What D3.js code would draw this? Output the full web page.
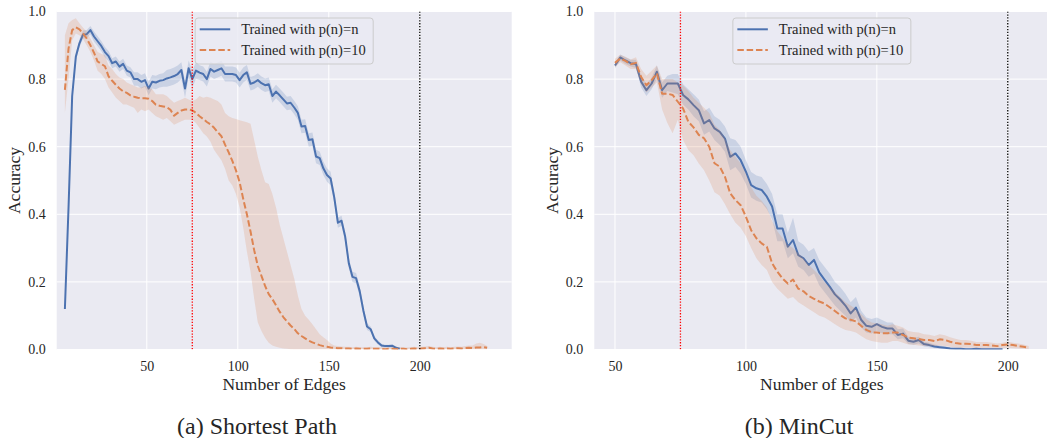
<!DOCTYPE html>
<html>
<head>
<meta charset="utf-8">
<script src="https://cdn.jsdelivr.net/npm/d3@7"></script>
<style>
  body { margin: 0; background: #ffffff; }
  svg { display: block; }
  text { font-family: "Liberation Serif", "Times New Roman", Times, serif; fill: #262626; }
</style>
</head>
<body>
<svg id="chart" width="1047" height="438"></svg>
<script>
// ---------- Shortest Path: accuracy vs. number of edges ----------
const spEdgesN = [5,7,9,11,13,15,17,19,21,23,25,27,29,31,33,35,37,39,41,43,45,47,49,51,53,55,57,59,61,63,65,67,69,71,73,75,77,79,81,83,85,87,89,91,93,95,97,99,101,103,105,107,109,111,113,115,117,119,121,123,125,127,129,131,133,135,137,139,141,143,145,147,149,151,153,155,157,159,161,163,165,167,169,171,173,175,177,179,181,183,185,187,189];
const spAccN = [.12,.42,.75,.866,.906,.932,.933,.945,.926,.912, .898,.88,.868,.847,.852,.837,.845,.825,.82,.80, .80,.792,.797,.772,.792,.79,.795,.797,.802,.805, .809,.815,.827,.772,.832,.80,.825,.819,.815,.80, .83,.822,.827,.832,.815,.815,.815,.812,.797,.812, .82,.786,.79,.797,.788,.782,.785,.75,.763,.752, .74,.728,.73,.716,.70,.66,.661,.62,.622,.571, .566,.536,.516,.506,.45,.375,.381,.334,.255,.215, .211,.172,.115,.068,.06,.033,.021,.012,.01,.01, .011,.005,.002];
const spLowN = [.115,.41,.735,.854,.894,.92,.921,.933,.911,.897, .883,.865,.853,.832,.837,.822,.83,.81,.805,.78, .78,.772,.777,.752,.772,.77,.775,.777,.777,.78, .784,.79,.80,.745,.805,.775,.80,.797,.793,.778, .808,.80,.805,.81,.793,.793,.793,.79,.775,.79, .798,.766,.77,.777,.768,.762,.765,.73,.743,.732, .72,.708,.71,.696,.68,.64,.641,.60,.602,.551, .546,.516,.496,.486,.435,.36,.366,.319,.24,.20, .196,.157,.10,.058,.052,.026,.015,.007,.006,.006, .007,.002,0];
const spHighN = [.125,.43,.765,.878,.918,.944,.945,.957,.941,.927, .913,.895,.883,.862,.867,.852,.86,.84,.835,.82, .82,.812,.817,.792,.812,.81,.815,.817,.827,.83, .834,.84,.85,.795,.855,.825,.85,.841,.837,.822, .852,.844,.849,.854,.837,.837,.837,.834,.819,.834, .842,.806,.81,.817,.808,.802,.805,.77,.783,.772, .76,.748,.75,.736,.72,.68,.681,.64,.642,.591, .586,.556,.536,.526,.465,.39,.396,.349,.27,.23, .226,.187,.13,.078,.068,.04,.027,.017,.014,.014, .015,.008,.004];

const spEdges10 = [5,7,9,11,13,15,17,19,21,23,25,27,29,31,33,35,37,39,41,43,45,47,49,51,53,55,57,59,61,63,65,67,69,71,73,75,77,79,81,83,85,87,89,91,93,95,97,99,101,103,105,107,109,111,113,115,117,119,121,123,125,127,129,131,133,135,137,139,141,143,145,147,149,151,153,155,157,159,161,163,165,167,169,171,173,175,177,179,181,183,185,187,189,191,193,195,197,199,201,203,205,207,209,211,213,215,217,219,221,223,225,227,229,231,233,235,237];
const spAcc10 = [.768,.89,.945,.953,.947,.935,.92,.90,.878,.852, .845,.838,.808,.795,.783,.772,.764,.759,.752,.748, .745,.743,.743,.742,.735,.724,.721,.719,.717,.709, .692,.70,.707,.71,.71,.708,.70,.69,.682,.673, .666,.656,.643,.631,.606,.583,.558,.53,.495,.445, .40,.349,.294,.247,.218,.188,.164,.149,.131,.112, .096,.083,.071,.061,.048,.04,.033,.026,.021,.017, .013,.01,.008,.006,.005,.004,.004,.003,.003,.002, .003,.002,.002,.002,.003,.002,.002,.002,.001,.002, .002,.001,.002,.002,.001,.002,.003,.002,.003,.004, .005,.003,.002,.003,.002,.003,.002,.003,.004,.003, .004,.005,.004,.006,.006,.007,.005];
const spLow10 = [.70,.80,.915,.935,.93,.918,.90,.88,.855,.825, .815,.80,.775,.76,.745,.735,.725,.725,.72,.715, .70,.71,.705,.71,.70,.69,.685,.68,.685,.675, .665,.67,.675,.68,.68,.68,.67,.655,.64,.63, .615,.59,.575,.56,.535,.50,.485,.46,.42,.36, .29,.23,.15,.08,.055,.035,.02,.012,.008,.005, .003,.002,.001,0,0,0,0,0,0,0, 0,0,0,0,0,0,0,0,0,0, 0,0,0,0,0,0,0,0,0,0, 0,0,0,0,0,0,0,0,0,0, 0,0,0,0,0,0,0,0,0,0, 0,0,0,0,0,0,0];
const spHigh10 = [.93,.965,.975,.98,.965,.952,.94,.92,.90,.88, .875,.87,.84,.83,.815,.805,.80,.79,.785,.78, .775,.775,.78,.775,.77,.755,.755,.755,.75,.74, .73,.735,.74,.745,.74,.735,.74,.75,.745,.748, .745,.74,.735,.725,.70,.69,.685,.682,.678,.675, .672,.668,.62,.57,.53,.495,.49,.46,.42,.37, .33,.29,.25,.21,.16,.12,.10,.088,.075,.06, .045,.036,.028,.018,.012,.01,.009,.008,.008,.007, .008,.007,.007,.007,.008,.007,.007,.007,.006,.007, .007,.006,.007,.007,.006,.007,.008,.007,.008,.009, .01,.008,.007,.008,.007,.008,.007,.008,.009,.008, .01,.012,.012,.018,.02,.016,.01];

// ---------- MinCut: accuracy vs. number of edges ----------
const mcEdgesN = [50,52,54,56,58,60,62,64,66,68,70,72,74,76,78,80,82,84,86,88,90,92,94,96,98,100,102,104,106,108,110,112,114,116,118,120,122,124,126,128,130,132,134,136,138,140,142,144,146,148,150,152,154,156,158,160,162,164,166,168,170,172,174,176,178,180,182,184,186,188,190,192,194,196,198];
const mcAccN = [.84,.864,.855,.847,.845,.792,.767,.787,.822,.767, .787,.787,.787,.753,.74,.723,.708,.669,.679,.654, .644,.624,.57,.58,.56,.526,.486,.477,.472,.452, .423,.358,.358,.304,.324,.279,.27,.25,.265,.228, .207,.186,.163,.148,.13,.107,.124,.088,.07,.067, .075,.067,.062,.062,.043,.047,.026,.023,.028,.016, .013,.009,.007,.005,.003,.002,.002,.001,.001,.002, .001,.001,.001,.001,.001];
const mcLowN = [.832,.855,.845,.837,.833,.775,.75,.77,.80,.745, .765,.76,.755,.725,.71,.69,.675,.635,.645,.62, .605,.585,.53,.54,.52,.49,.45,.44,.435,.415, .385,.32,.32,.27,.285,.245,.235,.215,.225,.19, .17,.15,.13,.115,.10,.08,.095,.065,.05,.047, .055,.048,.045,.045,.03,.033,.016,.014,.018,.009, .007,.004,.003,.002,.001,0,0,0,0,0, 0,0,0,0,0];
const mcHighN = [.85,.873,.865,.857,.857,.81,.785,.805,.84,.79, .81,.815,.815,.785,.77,.755,.74,.705,.715,.69, .68,.66,.625,.62,.60,.56,.525,.515,.51,.49, .46,.40,.40,.345,.39,.32,.31,.29,.30,.265, .245,.225,.20,.185,.165,.14,.155,.115,.095,.09, .095,.087,.08,.08,.06,.062,.038,.034,.038,.024, .02,.015,.012,.009,.006,.004,.004,.003,.003,.004, .003,.003,.003,.003,.003];

const mcEdges10 = [50,52,54,56,58,60,62,64,66,68,70,72,74,76,78,80,82,84,86,88,90,92,94,96,98,100,102,104,106,108,110,112,114,116,118,120,122,124,126,128,130,132,134,136,138,140,142,144,146,148,150,152,154,156,158,160,162,164,166,168,170,172,174,176,178,180,182,184,186,188,190,192,194,196,198,200,202,204,206,208];
const mcAcc10 = [.848,.861,.854,.844,.848,.806,.782,.797,.817,.757, .757,.753,.733,.713,.674,.657,.635,.625,.60,.551, .541,.511,.462,.442,.427,.393,.353,.329,.314,.304, .255,.23,.21,.195,.207,.18,.172,.158,.15,.142, .136,.125,.114,.102,.092,.088,.083,.07,.058,.051, .05,.048,.048,.05,.05,.043,.035,.033,.031,.028, .028,.025,.03,.028,.023,.019,.017,.017,.016,.013, .013,.013,.012,.01,.013,.015,.013,.01,.008,.005];
const mcLow10 = [.835,.85,.84,.83,.83,.785,.76,.775,.79,.71, .67,.64,.68,.62,.59,.575,.55,.53,.50,.465, .455,.43,.40,.375,.36,.335,.30,.27,.25,.235, .20,.18,.165,.15,.155,.14,.13,.12,.11,.10, .095,.085,.075,.065,.058,.055,.05,.04,.03,.025, .022,.02,.02,.025,.025,.02,.015,.014,.012,.01, .01,.01,.012,.01,.008,.006,.005,.005,.005,.004, .004,.004,.004,.003,.004,.005,.004,.003,.002,.001];
const mcHigh10 = [.86,.872,.866,.858,.865,.83,.81,.825,.84,.80, .80,.80,.79,.78,.765,.745,.73,.715,.70,.665, .65,.625,.59,.57,.55,.52,.48,.455,.44,.42, .38,.35,.33,.31,.30,.285,.27,.25,.235,.22, .20,.185,.17,.155,.14,.13,.12,.105,.09,.08, .078,.075,.07,.075,.07,.065,.055,.052,.05,.045, .044,.04,.045,.042,.036,.032,.028,.028,.026,.022, .022,.022,.02,.018,.02,.024,.02,.018,.015,.01];

// ---------- axis ticks, labels, reference lines ----------
const xTicks = [50, 100, 150, 200];
const yTicks = [0, 0.2, 0.4, 0.6, 0.8, 1.0];
const legendLabels = ["Trained with p(n)=n", "Trained with p(n)=10"];
const refLines = [75, 200];

const COLORS = ["#4C72B0", "#DD8452"];
const BG = "#EAEAF2";

function zipRows(xs, mean, lo, hi) {
  return xs.map((x, i) => ({ x, y: mean[i], lo: lo[i], hi: hi[i] }));
}

const panels = [
  {
    id: "sp", caption: "(a) Shortest Path", captionX: 257,
    left: 56.7, right: 511.7, xDomain: [0.5, 250.5], yLabelX: 20,
    series: [
      zipRows(spEdgesN, spAccN, spLowN, spHighN),
      zipRows(spEdges10, spAcc10, spLow10, spHigh10)
    ]
  },
  {
    id: "mc", caption: "(b) MinCut", captionX: 799,
    left: 594.3, right: 1049.4, xDomain: [42.1, 215.9], yLabelX: 558,
    series: [
      zipRows(mcEdgesN, mcAccN, mcLowN, mcHighN),
      zipRows(mcEdges10, mcAcc10, mcLow10, mcHigh10)
    ]
  }
];

const plotTop = 11.5, plotBottom = 349.5;
const svg = d3.select("#chart");
const y = d3.scaleLinear().domain([0, 1]).range([plotBottom, plotTop]);

panels.forEach(p => {
  const x = d3.scaleLinear().domain(p.xDomain).range([p.left, p.right]);
  const g = svg.append("g");

  g.append("clipPath").attr("id", "clip-" + p.id)
    .append("rect").attr("x", p.left).attr("y", plotTop)
    .attr("width", p.right - p.left).attr("height", plotBottom - plotTop);

  g.append("rect").attr("x", p.left).attr("y", plotTop)
    .attr("width", p.right - p.left).attr("height", plotBottom - plotTop)
    .attr("fill", BG);

  // grid
  const grid = g.append("g").attr("stroke", "#ffffff").attr("stroke-width", 1);
  yTicks.forEach(t => grid.append("line")
    .attr("x1", p.left).attr("x2", p.right).attr("y1", y(t)).attr("y2", y(t)));
  xTicks.forEach(t => grid.append("line")
    .attr("x1", x(t)).attr("x2", x(t)).attr("y1", plotTop).attr("y2", plotBottom));

  const plot = g.append("g").attr("clip-path", `url(#clip-${p.id})`);

  const area = d3.area().x(d => x(d.x)).y0(d => y(d.lo)).y1(d => y(d.hi));
  const line = d3.line().x(d => x(d.x)).y(d => y(d.y));

  p.series.forEach((rows, i) => {
    plot.append("path").datum(rows).attr("d", area)
      .attr("fill", COLORS[i]).attr("fill-opacity", 0.2).attr("stroke", "none");
    plot.append("path").datum(rows).attr("d", line)
      .attr("fill", "none").attr("stroke", COLORS[i]).attr("stroke-width", 2)
      .attr("stroke-linejoin", "round")
      .attr("stroke-dasharray", i === 1 ? "6.5,2.8" : null);
  });

  // reference lines
  plot.append("line").attr("x1", x(refLines[0])).attr("x2", x(refLines[0]))
    .attr("y1", plotTop).attr("y2", plotBottom)
    .attr("stroke", "#ff0000").attr("stroke-width", 1.3).attr("stroke-dasharray", "1.3,1.6");
  plot.append("line").attr("x1", x(refLines[1])).attr("x2", x(refLines[1]))
    .attr("y1", plotTop).attr("y2", plotBottom)
    .attr("stroke", "#000000").attr("stroke-width", 1.3).attr("stroke-dasharray", "1.3,1.6");

  // axes
  const yAxis = g.append("g").attr("transform", `translate(${p.left},0)`)
    .call(d3.axisLeft(y).tickValues(yTicks).tickFormat(d3.format(".1f")).tickSize(0).tickPadding(11));
  yAxis.select(".domain").remove();
  yAxis.selectAll("text").attr("font-size", 14).attr("fill", "#262626")
    .attr("font-family", '"Liberation Serif", "Times New Roman", serif');

  const xAxis = g.append("g").attr("transform", `translate(0,${plotBottom})`)
    .call(d3.axisBottom(x).tickValues(xTicks).tickFormat(d3.format("d")).tickSize(0).tickPadding(11.5));
  xAxis.select(".domain").remove();
  xAxis.selectAll("text").attr("font-size", 14).attr("fill", "#262626")
    .attr("font-family", '"Liberation Serif", "Times New Roman", serif');

  // axis titles
  g.append("text").attr("x", (p.left + p.right) / 2).attr("y", 390)
    .attr("text-anchor", "middle").attr("font-size", 17.5).text("Number of Edges");
  g.append("text").attr("transform", `translate(${p.yLabelX},${(plotTop + plotBottom) / 2}) rotate(-90)`)
    .attr("text-anchor", "middle").attr("font-size", 17.5).text("Accuracy");

  // caption
  svg.append("text").attr("x", p.captionX).attr("y", 434)
    .attr("text-anchor", "middle").attr("font-size", 24).text(p.caption);

  // legend
  const lw = 178, lh = 46;
  const lx = (p.left + p.right) / 2 - lw / 2, ly = 18;
  const lg = g.append("g");
  lg.append("rect").attr("x", lx).attr("y", ly).attr("width", lw).attr("height", lh)
    .attr("rx", 3).attr("fill", BG).attr("fill-opacity", 0.8)
    .attr("stroke", "#cccccc").attr("stroke-width", 1);
  legendLabels.forEach((lab, i) => {
    const cy = ly + 11.3 + i * 20.7;
    lg.append("line").attr("x1", lx + 4.5).attr("x2", lx + 35)
      .attr("y1", cy).attr("y2", cy)
      .attr("stroke", COLORS[i]).attr("stroke-width", 2)
      .attr("stroke-dasharray", i === 1 ? "6.5,2.8" : null);
    lg.append("text").attr("x", lx + 46).attr("y", cy + 5)
      .attr("font-size", 14.5).text(lab);
  });
});
</script>
</body>
</html>
